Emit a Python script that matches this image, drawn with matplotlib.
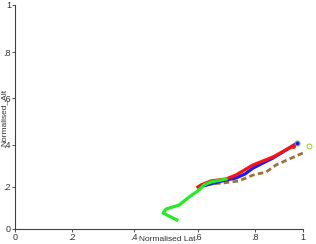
import matplotlib
matplotlib.use("Agg")
import matplotlib.pyplot as plt
import numpy as np

# Trajectories (normalised lat / alt)
green_lat = [0.534, 0.491, 0.500, 0.541, 0.572, 0.604, 0.621, 0.646, 0.698]
green_alt = [0.043, 0.076, 0.095, 0.114, 0.152, 0.186, 0.210, 0.224, 0.238]

red_lat = [0.600, 0.611, 0.646, 0.698, 0.733, 0.793, 0.875, 0.958]
red_alt = [0.200, 0.210, 0.229, 0.238, 0.257, 0.305, 0.343, 0.395]

blue_lat = [0.618, 0.660, 0.698, 0.733, 0.765, 0.793, 0.875, 0.975]
blue_alt = [0.205, 0.220, 0.233, 0.243, 0.262, 0.290, 0.338, 0.408]

brown_lat = [0.628, 0.688, 0.744, 0.793, 0.846, 0.888, 0.942, 1.000, 1.025]
brown_alt = [0.214, 0.219, 0.229, 0.257, 0.271, 0.305, 0.333, 0.362, 0.395]

ticks = [0, 0.2, 0.4, 0.6, 0.8, 1]
tick_labels = ["0", ".2", ".4", ".6", ".8", "1"]

# the reference axes are not evenly spaced; pixel spots of each tick
x_tick_px = [0, 57, 119, 183, 240, 288]
y_tick_px = [0, 42, 84, 131, 177, 224]


def piecewise(vals, pos):
    vals = np.asarray(vals, float)
    pos = np.asarray(pos, float)

    def conv(v, a, b):
        v = np.asarray(v, float)
        out = np.interp(v, a, b)
        out = np.where(v < a[0], b[0] + (v - a[0]) * (b[1] - b[0]) / (a[1] - a[0]), out)
        out = np.where(v > a[-1], b[-1] + (v - a[-1]) * (b[-1] - b[-2]) / (a[-1] - a[-2]), out)
        return out

    return (lambda v: conv(v, vals, pos)), (lambda p: conv(p, pos, vals))


plt.rcParams['font.family'] = ['Liberation Sans', 'DejaVu Sans']

fig = plt.figure(figsize=(3.16, 2.44), dpi=100)
ax = fig.add_axes([15 / 316, 15 / 244, 288 / 316, 224 / 244])
ax.set_xscale('function', functions=piecewise(ticks, x_tick_px))
ax.set_yscale('function', functions=piecewise(ticks, y_tick_px))

ax.plot(brown_lat, brown_alt, color='#a0703a', lw=2.0, ls=(0, (2, 1.2)), zorder=2)
ax.plot(brown_lat[-1], brown_alt[-1], 'o', ms=3.5, mfc='none', mec='#a8d040', mew=0.8, clip_on=False, zorder=5)
ax.plot(blue_lat, blue_alt, color='#1a1aff', lw=2.3, zorder=3)
ax.plot(blue_lat[-1], blue_alt[-1], 'o', ms=3.5, mfc='#1a1aff', mec='#60c040', mew=0.8, zorder=5)
ax.plot(red_lat, red_alt, color='#ff1010', lw=2.3, zorder=4)
ax.plot(red_lat[-1], red_alt[-1], 'o', ms=2.5, mfc='#ff1010', mec='#ff1010', zorder=5)
ax.plot(green_lat, green_alt, color='#22ee22', lw=2.3, zorder=6)

ax.set_xlim(0, 1)
ax.set_ylim(0, 1)
ax.set_xticks(ticks)
ax.set_xticklabels(tick_labels)
ax.set_yticks(ticks)
ax.set_yticklabels(tick_labels)
ax.minorticks_off()
ax.tick_params(labelsize=6.5, length=2, width=0.6, pad=1, colors='#303030')

for side in ['top', 'right']:
    ax.spines[side].set_visible(False)
for side in ['left', 'bottom']:
    ax.spines[side].set_color('#404040')
    ax.spines[side].set_linewidth(0.8)

ax.set_xlabel('Normalised Lat', fontsize=6.0, color='#303030')
ax.set_ylabel('Normalised_Alt', fontsize=6.0, color='#303030')
ax.xaxis.set_label_coords(0.527, -0.03)
ax.yaxis.set_label_coords(-0.024, 0.5)

fig.savefig('out.png', dpi=100)
